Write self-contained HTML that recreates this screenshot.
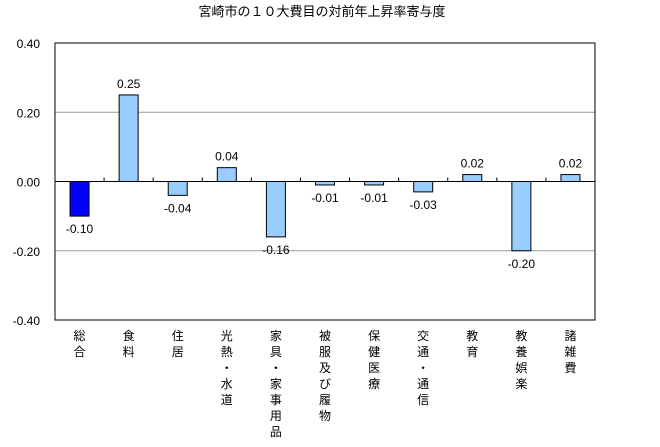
<!DOCTYPE html>
<html><head><meta charset="utf-8"><style>
body{margin:0;background:#fff;}
svg{display:block;font-family:"Liberation Sans","Noto Sans CJK JP",sans-serif;}
</style></head><body>
<svg id="chart" width="660" height="447">
<text x="322" y="16" font-size="13" text-anchor="middle">宮崎市の１０大費目の対前年上昇率寄与度</text>
<g id="grid"></g><g id="bars"></g><g id="labels"></g>
</svg>
<script>
const categories=["総合","食料","住居","光熱・水道","家具・家事用品","被服及び履物","保健医療","交通・通信","教育","教養娯楽","諸雑費"];
const values=[-0.10,0.25,-0.04,0.04,-0.16,-0.01,-0.01,-0.03,0.02,-0.20,0.02];
const valueLabels=["-0.10","0.25","-0.04","0.04","-0.16","-0.01","-0.01","-0.03","0.02","-0.20","0.02"];
const ticks=[0.4,0.2,0,-0.2,-0.4];
const tickLabels=["0.40","0.20","0.00","-0.20","-0.40"];
const L=55,R=595,T=43,B=320,NS="http://www.w3.org/2000/svg";
const y=v=>T+(0.4-v)/0.8*(B-T);
const bw=(R-L)/categories.length;
const xc=i=>L+bw*(i+0.5);
function mk(tag,attrs,parent){const e=document.createElementNS(NS,tag);for(const k in attrs)e.setAttribute(k,attrs[k]);parent.appendChild(e);return e;}
const grid=document.getElementById('grid'),bars=document.getElementById('bars'),labels=document.getElementById('labels');
ticks.forEach((t,i)=>{
 if(t!==0.4&&t!==-0.4){const l=mk('line',{x1:L,x2:R,y1:y(t),y2:y(t),stroke:t===0?'#000':'#999','stroke-width':1},grid);
 
 }
 const tx=mk('text',{x:40,y:y(t)+5,'font-size':12,'text-anchor':'end'},labels);
 tx.textContent=tickLabels[i];
 
 
});
const frame=mk('rect',{x:L,y:T,width:R-L,height:B-T,fill:'none',stroke:'#000'},grid);


for(let i=1;i<categories.length;i++){const tk=mk('line',{x1:L+bw*i,x2:L+bw*i,y1:y(0)-4,y2:y(0),stroke:'#000'},grid);
 
 }
values.forEach((v,i)=>{
 const y0=y(0),y1=y(v);
 const r=mk('rect',{x:xc(i)-9.5,y:Math.min(y0,y1),width:19,height:Math.abs(y1-y0),fill:i===0?'#0000ff':'#99ccff',stroke:'#000','stroke-width':1},bars);
 
 
 const t=mk('text',{x:xc(i),y:v>=0?y1-7:y1+17,'font-size':12,'text-anchor':'middle'},labels);
 t.textContent=valueLabels[i];
 
 
 const g=mk('text',{x:xc(i),y:340,'font-size':12,'text-anchor':'middle'},labels);
 
 
 [...categories[i]].forEach((ch,j)=>{const s=mk('tspan',{x:xc(i),y:340+j*16},g);s.textContent=ch;});
});
</script>
</body></html>
